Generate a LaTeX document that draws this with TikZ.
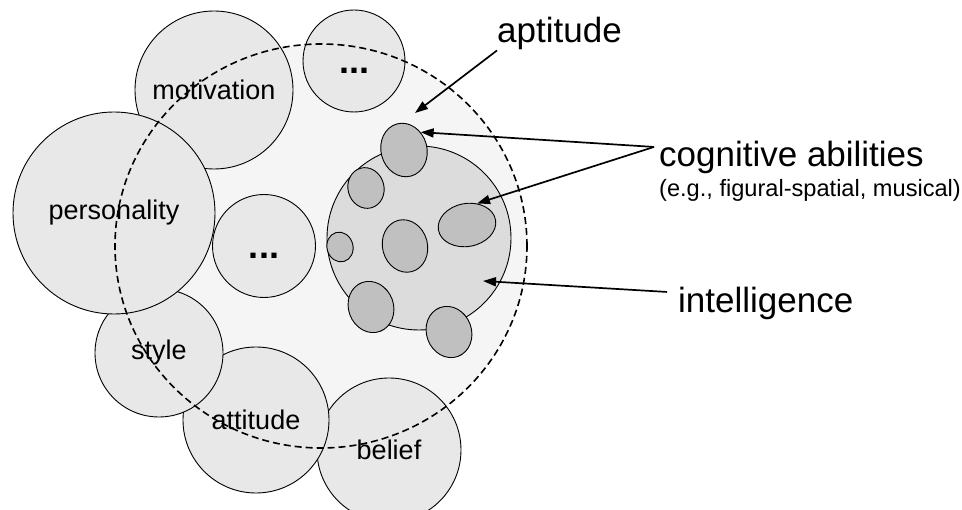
\documentclass[tikz,border=0pt]{standalone}
\usepackage{fontspec}
\setmainfont{Liberation Sans}
\definecolor{BubbleGray}{HTML}{E8E8E8}
\definecolor{DomainGray}{HTML}{F5F5F5}
\definecolor{IntelGray}{HTML}{DCDCDC}
\definecolor{BlobGray}{HTML}{C0C0C0}
\usepackage{tikz}
\usetikzlibrary{
  arrows.meta,
  positioning,
  shapes.geometric
}

\begin{document}
\begin{tikzpicture}[
  x=1pt, y=-1pt,
  bubble/.style={
    circle, draw=black, line width=0.9pt,
    fill=BubbleGray, inner sep=0pt,
    font=\fontsize{27}{32}\selectfont
  },
  dotsbubble/.style={
    bubble, text height=25pt, text depth=0pt,
    font=\fontsize{36}{42}\selectfont\bfseries
  },
  blob/.style={
    ellipse, draw=black, line width=0.9pt,
    fill=BlobGray, inner sep=0pt
  },
  biglabel/.style={
    anchor=base west, inner sep=0pt,
    font=\fontsize{35}{42}\selectfont
  },
  smalllabel/.style={
    inner sep=0pt,
    font=\fontsize{23.6}{28}\selectfont
  },
  conn/.style={
    -{Triangle[length=13pt, width=9pt]}, line width=1.7pt
  }
]
  \clip (0,0) rectangle (962,510);

  % Area of abilities (fill only, outline later)
  \node[ellipse, fill=DomainGray, inner sep=0pt,
    minimum width=412pt, minimum height=404pt] (domain) at (321,246) {};

  % Neighbouring constructs
  \node[bubble, minimum size=144pt] (belief) at (389,450) {belief};
  \node[bubble, minimum size=146pt] (attit) at (256,420) {attitude};
  \node[bubble, minimum size=128pt] (sty) at (159,353) {style};
  \node[bubble, minimum size=158pt] (motiv) at (214,90) {motivation};
  \node[bubble, minimum size=202pt] (person) at (114,213) {personality};
  \node[dotsbubble, minimum size=102pt] (topdots) at (354,61) {...};
  \node[dotsbubble, minimum size=103pt] (middots) at (264,246) {...};

  % Dashed outline on top
  \draw[dashed, dash pattern=on 7pt off 4pt, line width=1.6pt]
    (domain.center) ellipse [x radius=206pt, y radius=202pt];

  % Intelligence and cognitive abilities
  \node[circle, draw=black, line width=0.9pt, fill=IntelGray,
    minimum size=184pt] (intel) at (419,238) {};
  \node[blob, minimum width=46pt, minimum height=54pt, rotate=15] (e1) at (404,150) {};
  \node[blob, minimum width=36pt, minimum height=41pt, rotate=15] (e2) at (366,188) {};
  \node[blob, minimum width=58pt, minimum height=43pt, rotate=10] (e3) at (467,225) {};
  \node[blob, minimum width=26pt, minimum height=30pt, rotate=15] (e4) at (340,247) {};
  \node[blob, minimum width=45pt, minimum height=53pt, rotate=15] (e5) at (405,246) {};
  \node[blob, minimum width=45pt, minimum height=52pt, rotate=20] (e6) at (371,307) {};
  \node[blob, minimum width=45pt, minimum height=52pt, rotate=20] (e7) at (449,332) {};

  % Labels (right)
  \node[biglabel] (aptlab) at (497,43) {aptitude};
  \node[biglabel] (coglab) at (659,167) {cognitive abilities};
  \node[smalllabel, below=5pt of coglab.south west, anchor=north west] (sublab)
    {(e.g., figural-spatial, musical)};
  \node[biglabel] (intlab) at (678,313) {intelligence};

  \coordinate (aptpt) at (415,113);
  \coordinate (intpt) at (483,281);

  % Connections
  \draw[conn] (aptlab.south west) -- (aptpt);
  \draw[conn] ([xshift=-5pt, yshift=11pt]coglab.west) -- (e1.32);
  \draw[conn] ([xshift=-5pt, yshift=11pt]coglab.west) -- (e3.55);
  \draw[conn] ([xshift=-11pt, yshift=12pt]intlab.west) -- (intpt);
\end{tikzpicture}
\end{document}
